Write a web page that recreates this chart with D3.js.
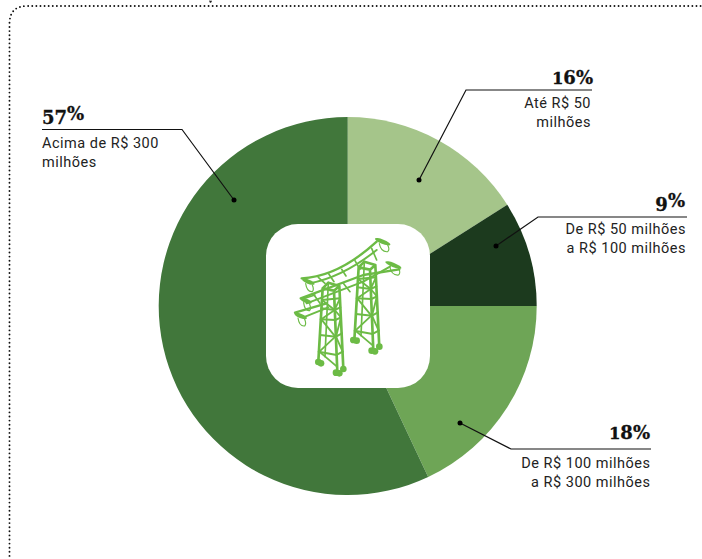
<!DOCTYPE html>
<html><head><meta charset="utf-8">
<script src="https://cdn.jsdelivr.net/npm/d3@7"></script>
<style>html,body{margin:0;padding:0;background:#fff}svg{display:block}</style></head>
<body><svg id="c" width="702" height="559"></svg>
<script>
const categories=["Até R$ 50 milhões","De R$ 50 milhões a R$ 100 milhões","De R$ 100 milhões a R$ 300 milhões","Acima de R$ 300 milhões"];
const values=[16,9,18,57];
const colors=["#a5c58a","#1c3a1e","#6ea556","#41773b"];
const pctLabels=["16%","9%","18%","57%"];
const labelLines=[["Até R$ 50","milhões"],["De R$ 50 milhões","a R$ 100 milhões"],["De R$ 100 milhões","a R$ 300 milhões"],["Acima de R$ 300","milhões"]];

const svg=d3.select("#c");
const cx=347.7,cy=306,R=189;

// dotted frame
svg.append("path").attr("d","M9.5,560V24Q9.5,6 27,6H703").attr("fill","none").attr("stroke","#111")
  .attr("stroke-width",1.9).attr("stroke-linecap","round").attr("stroke-dasharray","0 4.1");
svg.append("path").attr("d","M209,0.5q2.5,0.5 3,0q0,2 -2,2.5").attr("fill","#222");

const pie=d3.pie().sort(null)(values);
const arc=d3.arc().innerRadius(0).outerRadius(R);
svg.append("g").attr("transform",`translate(${cx},${cy})`).selectAll("path").data(pie).join("path")
  .attr("d",arc).attr("fill",(d,i)=>colors[i]);

svg.append("rect").attr("x",266).attr("y",224).attr("width",164).attr("height",164).attr("rx",32).attr("fill","#fff");

// pylon icon (decorative pictogram, coordinates in a 3x grid)
const green="#6cbb45";
const ic=svg.append("g").attr("transform","translate(260,220) scale(0.3333)").attr("fill","none").attr("stroke",green).attr("stroke-linecap","round").attr("stroke-linejoin","round");
const P=(d,w)=>ic.append("path").attr("d",d).attr("stroke-width",w);
function tower(dx,dy){
  const g=(d,w)=>P(d,w).attr("transform",`translate(${dx},${dy})`);
  g("M188,205L175,425M222,212L232,455M238,198L250,445M188,205L205,188L238,198L222,212Z",8);
  g("M205,188L195,410",5);
  g("M186,240L240,235M184,265L224,270L241,262M182,298L226,300L243,292M180,345L228,350L246,340M176,395L230,405L248,395",6);
  g("M186,240L224,270L184,298L226,350L178,395L231,440M240,235L224,270L243,292L228,350L248,395",5.5);
}
P("M125,175Q235,170 350,65",7);
P("M150,190Q250,170 350,90",6);
P("M122,235L310,165L418,148",7);
P("M140,250L310,185L390,140",6);
P("M105,278L200,250",7);
P("M130,292L205,262",6);
P("M175,172L195,190M205,160L222,185M245,148L258,168M285,122L300,148M125,238L165,225M160,222L180,250M250,190L270,215M335,85L350,120",5);
tower(108,-63);
tower(0,0);
[[145,185,20],[368,65,25],[400,135,26],[138,242,18],[122,288,20]].forEach(([x,y,rx])=>{
  ic.append("ellipse").attr("cx",x).attr("cy",y).attr("rx",rx).attr("ry",6.5).attr("fill",green).attr("stroke","none").attr("transform",`rotate(22,${x},${y})`);
  P(`M${x-rx*0.4},${y+6}Q${x-rx*0.2},${y+32} ${x+rx*0.6},${y+30}Q${x+rx*0.9},${y+24} ${x+rx*0.6},${y+10}`,3.5);
});
[[175,426],[183,430],[228,458],[238,460],[250,447],[280,360],[290,362],[335,392],[345,394],[358,380]].forEach(([x,y])=>{
  ic.append("circle").attr("cx",x).attr("cy",y).attr("r",10).attr("fill",green).attr("stroke","none");
});

// callouts
const callouts=[
 {x0:592,x1:466,y:90,anchor:"end",tx:591,pctX:593,base:84},
 {x0:687,x1:538,y:217,anchor:"end",tx:686,pctX:685,base:207},
 {x0:651,x1:511,y:449,anchor:"end",tx:650.5,pctX:650,base:439},
 {x0:42,x1:182,y:129.5,anchor:"start",tx:42,pctX:42,base:120}
];
const dots=[[419,180],[496,246],[460,423],[234,200]];
const firstBase=[108,234,468,148];
// old-style figures: descending 5,7,9 and x-height 1
const figure=ch=>ch==="1"?{fs:16.5,dy:0}:("579".includes(ch)?{fs:18,dy:3.5}:{fs:18,dy:0});
callouts.forEach((c,i)=>{
  svg.append("path").attr("d",`M${c.x0},${c.y}H${c.x1}L${dots[i][0]},${dots[i][1]}`)
    .attr("fill","none").attr("stroke","#111").attr("stroke-width",1.2);
  svg.append("circle").attr("cx",dots[i][0]).attr("cy",dots[i][1]).attr("r",2.5).attr("fill","#000");
  const t=svg.append("text").attr("x",c.pctX).attr("y",c.base).attr("text-anchor",c.anchor)
    .attr("font-family","'DejaVu Serif'").attr("font-weight","bold").attr("fill","#111")
    .attr("stroke","#111").attr("stroke-width",0.3);
  let shift=0;
  [...pctLabels[i]].forEach(ch=>{
    const f=figure(ch);
    t.append("tspan").attr("font-size",f.fs).attr("dy",f.dy-shift).text(ch);
    shift=f.dy;
  });
  labelLines[i].forEach((l,j)=>svg.append("text").attr("x",c.tx).attr("y",firstBase[i]+j*18.5).attr("text-anchor",c.anchor)
    .attr("font-family","Roboto").attr("font-size",14.5).attr("letter-spacing",0.5).attr("fill","#222").text(l));
});
</script></body></html>
